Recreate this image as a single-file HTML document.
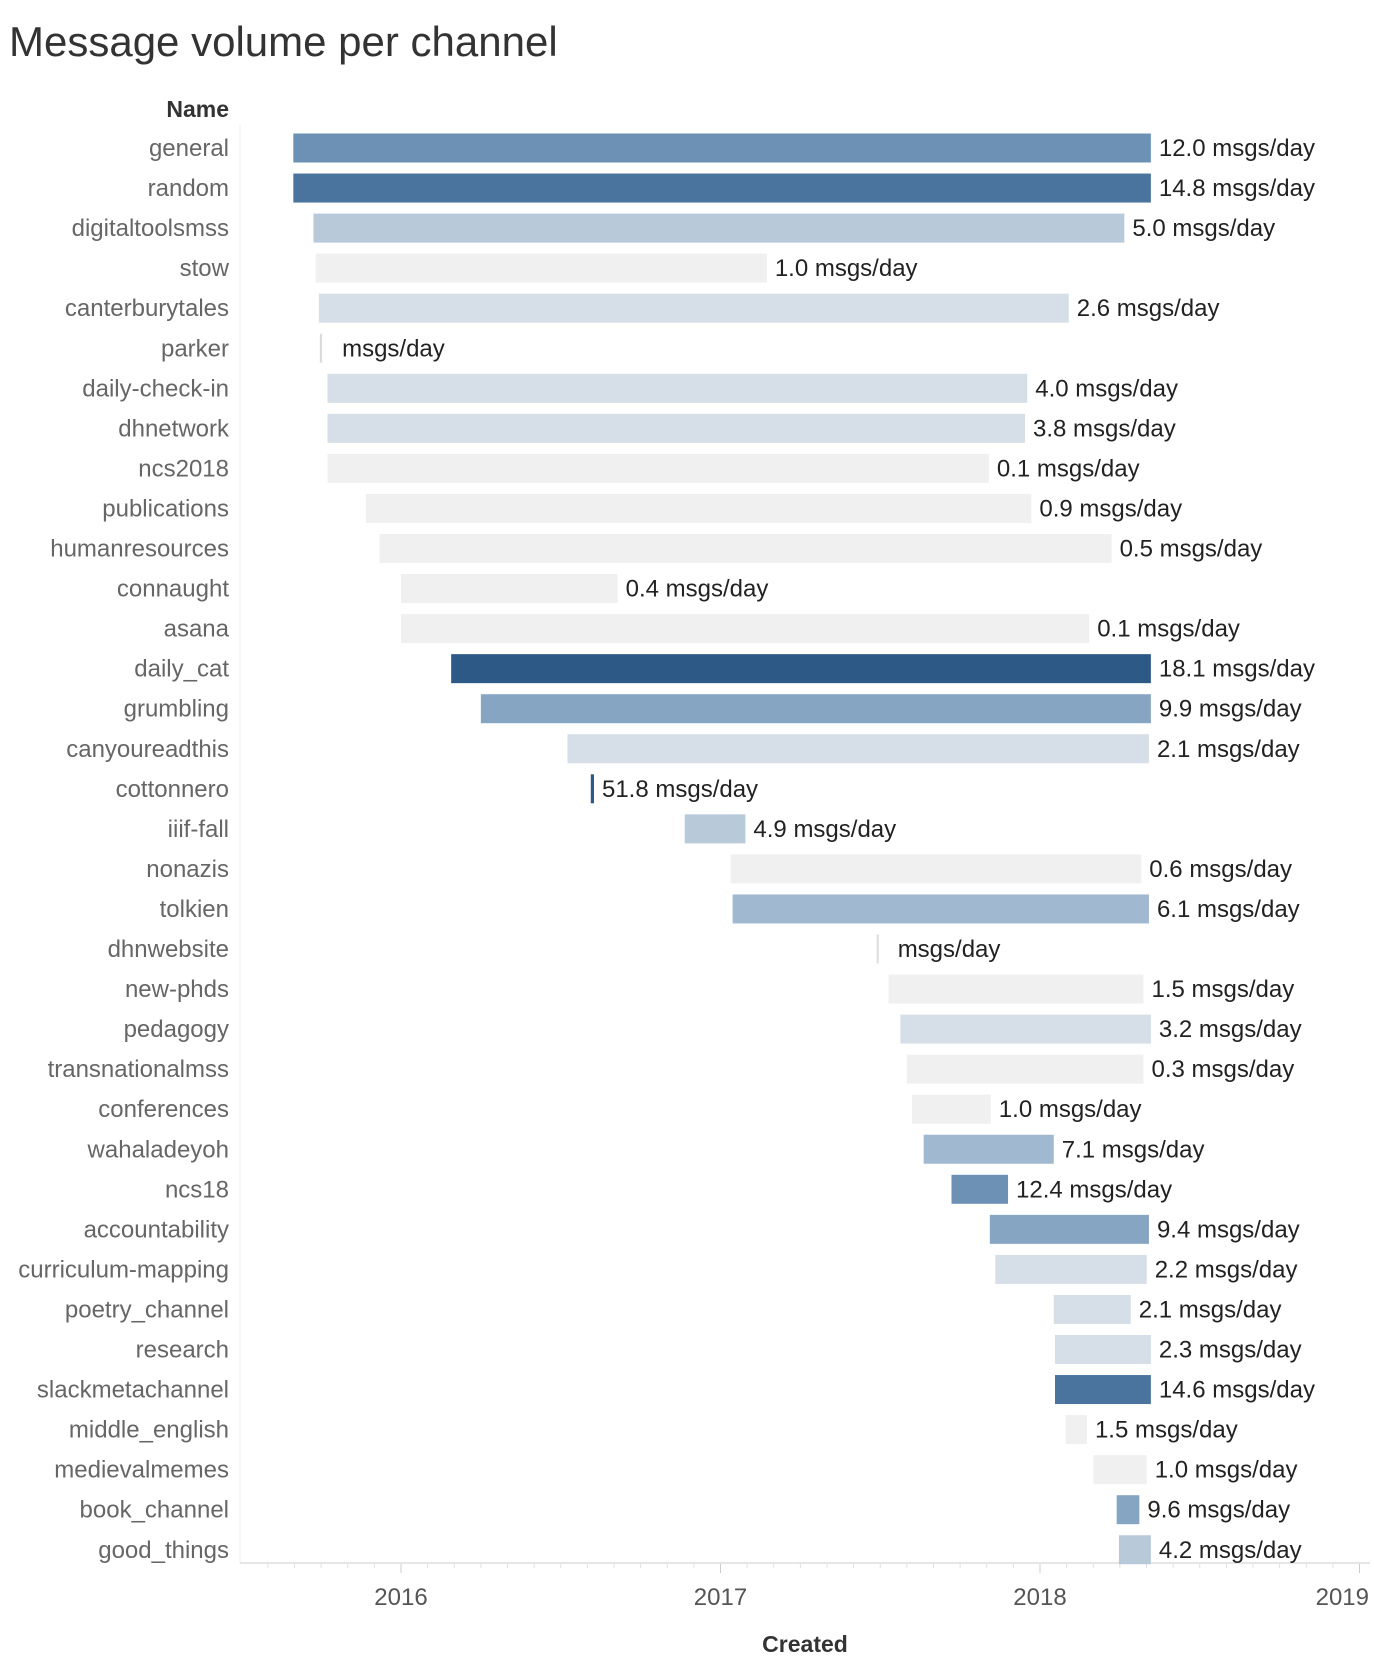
<!DOCTYPE html>
<html><head><meta charset="utf-8">
<style>
body{margin:0;background:#fff;font-family:"Liberation Sans",sans-serif;}
#wrap{position:relative;width:1374px;height:1676px;overflow:hidden;}
</style></head>
<body>
<div id="wrap">
<svg id="chart" width="1374" height="1676">
<text x="9" y="56" font-size="42" fill="#333" font-family="Liberation Sans, sans-serif">Message volume per channel</text>
<text x="229" y="117" font-size="23" font-weight="bold" fill="#333" text-anchor="end">Name</text>
<text x="805" y="1652" font-size="23" font-weight="bold" fill="#333" text-anchor="middle">Created</text>
<line x1="240" y1="125" x2="240" y2="1563" stroke="#eee" stroke-width="1"/>
<line x1="240" y1="1563" x2="1370" y2="1563" stroke="#e6e6e6" stroke-width="2"/>
<g id="ticks"></g>
<g id="rows"></g>
</svg>
</div>
<script>
const names=["general","random","digitaltoolsmss","stow","canterburytales","parker","daily-check-in","dhnetwork","ncs2018","publications","humanresources","connaught","asana","daily_cat","grumbling","canyoureadthis","cottonnero","iiif-fall","nonazis","tolkien","dhnwebsite","new-phds","pedagogy","transnationalmss","conferences","wahaladeyoh","ncs18","accountability","curriculum-mapping","poetry_channel","research","slackmetachannel","middle_english","medievalmemes","book_channel","good_things"];
const starts=[2015.663,2015.663,2015.726,2015.733,2015.743,2015.746,2015.770,2015.770,2015.770,2015.890,2015.933,2016.0,2016.0,2016.157,2016.250,2016.521,2016.594,2016.888,2017.032,2017.038,2017.489,2017.526,2017.563,2017.583,2017.599,2017.636,2017.723,2017.843,2017.860,2018.043,2018.047,2018.047,2018.080,2018.167,2018.240,2018.247];
const ends=[2018.347,2018.347,2018.264,2017.145,2018.090,2015.753,2017.960,2017.953,2017.840,2017.973,2018.224,2016.678,2018.154,2018.347,2018.347,2018.341,2016.604,2017.078,2018.317,2018.341,2017.492,2018.324,2018.347,2018.324,2017.846,2018.043,2017.900,2018.341,2018.334,2018.284,2018.347,2018.347,2018.147,2018.334,2018.311,2018.347];
const rates=[12.0,14.8,5.0,1.0,2.6,null,4.0,3.8,0.1,0.9,0.5,0.4,0.1,18.1,9.9,2.1,51.8,4.9,0.6,6.1,null,1.5,3.2,0.3,1.0,7.1,12.4,9.4,2.2,2.1,2.3,14.6,1.5,1.0,9.6,4.2];
const years=[2016,2017,2018,2019];

const NS="http://www.w3.org/2000/svg";
function xs(t){return 401+(t-2016)*319.5;}
function ys(i){return 148+i*40.05;}
function color(v){
  if(v===null) return "#dcdcdc";
  if(v>=16) return "#2c5985";
  if(v>=13.5) return "#4a739d";
  if(v>=11) return "#6c91b5";
  if(v>=8.5) return "#86a5c3";
  if(v>=5.5) return "#a0b8d0";
  if(v>=4.1) return "#b8c9da";
  if(v>=2) return "#d6dee7";
  return "#f0f0f0";
}
const rows=document.getElementById('rows');
names.forEach((n,i)=>{
  const y=ys(i);
  const lab=document.createElementNS(NS,'text');
  lab.setAttribute('x',229);lab.setAttribute('y',y+8);lab.setAttribute('font-size',24);
  lab.setAttribute('fill','#666');lab.setAttribute('text-anchor','end');
  lab.textContent=n;
  
  
  rows.appendChild(lab);
  const x0=xs(starts[i]),x1=xs(ends[i]);
  const r=document.createElementNS(NS,'rect');
  r.setAttribute('x',x0);r.setAttribute('y',y-14.5);
  r.setAttribute('width',Math.max(x1-x0,2));r.setAttribute('height',29);
  r.setAttribute('fill',color(rates[i]));
  
  
  rows.appendChild(r);
  const t=document.createElementNS(NS,'text');
  t.setAttribute('x',Math.max(x1,x0+2)+8);t.setAttribute('y',y+8);t.setAttribute('font-size',24);
  t.setAttribute('fill','#222');
  t.textContent=(rates[i]===null?"":rates[i].toFixed(1)+" ")+"msgs/day";
  if(rates[i]===null) t.setAttribute('x',x1+20);
  
  
  rows.appendChild(t);
});
const ticks=document.getElementById('ticks');
for(let m=-5;m<=37;m++){
  const t=2016+m/12; const x=xs(t);
  if(x<242||x>1372) continue;
  const l=document.createElementNS(NS,'line');
  const major=(m%12===0);
  l.setAttribute('x1',x);l.setAttribute('x2',x);l.setAttribute('y1',1564);l.setAttribute('y2',major?1573:1568);
  l.setAttribute('stroke',major?'#ccc':'#e0e0e0');
  
  
  ticks.appendChild(l);
}
years.forEach(yv=>{
  const t=document.createElementNS(NS,'text');
  t.setAttribute('x',xs(yv));t.setAttribute('y',1605);t.setAttribute('font-size',24);
  t.setAttribute('fill','#555');t.setAttribute('text-anchor',yv===2019?'end':'middle');
  if(yv===2019) t.setAttribute('x',1369);
  t.textContent=yv;
  
  
  ticks.appendChild(t);
});
</script>
</body></html>
